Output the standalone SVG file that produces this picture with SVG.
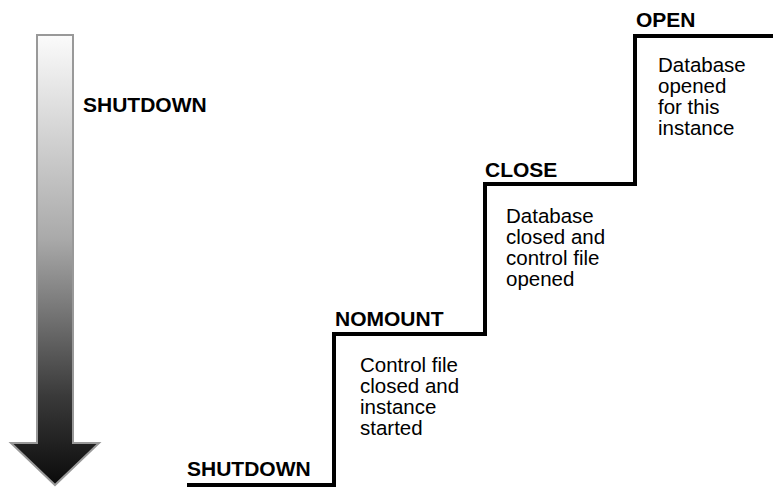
<svg xmlns="http://www.w3.org/2000/svg" width="773" height="487" viewBox="0 0 773 487">
  <defs>
    <linearGradient id="arrowGrad" gradientUnits="userSpaceOnUse" x1="0" y1="35" x2="0" y2="486">
      <stop offset="0" stop-color="#fbfbfb"/>
      <stop offset="0.45" stop-color="#aaaaaa"/>
      <stop offset="0.8" stop-color="#3a3a3a"/>
      <stop offset="1" stop-color="#0a0a0a"/>
    </linearGradient>
  </defs>
  <style>
    .state { font-family: "Liberation Sans", Arial, sans-serif; font-weight: bold; font-size: 21px; fill: #000; }
    .desc { font-family: "Liberation Sans", Arial, sans-serif; font-size: 20.5px; fill: #000; }
    .stair { fill: none; stroke: #000; stroke-width: 4; stroke-linejoin: miter; }
  </style>
  <rect width="773" height="487" fill="#fff"/>
  <g id="direction-arrow">
    <path d="M37 35 H73 V443 H99 L55 485 L11 443 H37 Z" fill="url(#arrowGrad)" stroke="#999" stroke-width="2" stroke-linejoin="miter"/>
    <text class="state" x="83" y="112">SHUTDOWN</text>
  </g>
  <g id="connectors">
    <path class="stair" d="M187 485 H334 V334 H485 V184 H635 V36 H773"/>
  </g>
  <g id="node-shutdown">
    <text class="state" x="187" y="476">SHUTDOWN</text>
  </g>
  <g id="node-nomount">
    <text class="state" x="335" y="326">NOMOUNT</text>
    <text class="desc" x="360" y="372">Control file</text>
    <text class="desc" x="360" y="393">closed and</text>
    <text class="desc" x="360" y="414">instance</text>
    <text class="desc" x="360" y="435">started</text>
  </g>
  <g id="node-close">
    <text class="state" x="485" y="177">CLOSE</text>
    <text class="desc" x="506" y="223">Database</text>
    <text class="desc" x="506" y="244">closed and</text>
    <text class="desc" x="506" y="265">control file</text>
    <text class="desc" x="506" y="286">opened</text>
  </g>
  <g id="node-open">
    <text class="state" x="636" y="27">OPEN</text>
    <text class="desc" x="658" y="72">Database</text>
    <text class="desc" x="658" y="93">opened</text>
    <text class="desc" x="658" y="114">for this</text>
    <text class="desc" x="658" y="135">instance</text>
  </g>
</svg>
